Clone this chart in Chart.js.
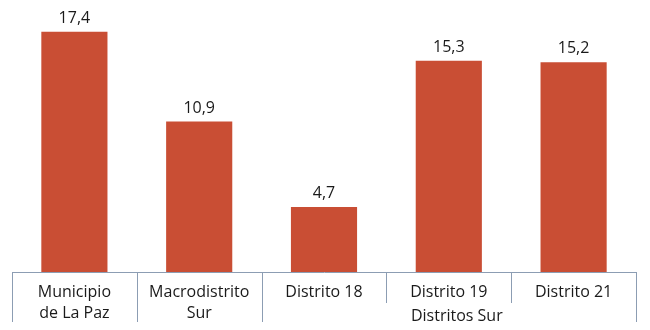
<!DOCTYPE html>
<html>
<head>
<meta charset="utf-8">
<script src="https://cdn.jsdelivr.net/npm/chart.js@4.4.1/dist/chart.umd.min.js"></script>
<style>
  html, body { margin: 0; padding: 0; background: #fff; }
  #wrap { width: 650px; height: 330px; }
</style>
</head>
<body>
<div id="wrap"><canvas id="chart" width="650" height="330"></canvas></div>
<script>
// datos
const categories = [["Municipio", "de La Paz"], ["Macrodistrito", "Sur"], "Distrito 18", "Distrito 19", "Distrito 21"];
const values = [17.4, 10.9, 4.7, 15.3, 15.2];
const groupLabel = "Distritos Sur";
const groupStart = 2; // Distrito 18 .. Distrito 21
const groupEnd = 4;

const FONT = "'Open Sans', sans-serif";
const LINE = "#8C9DB3";

// etiquetas de valor sobre las barras (coma decimal)
const valueLabels = {
  id: "valueLabels",
  afterDatasetsDraw(chart) {
    const ctx = chart.ctx;
    const meta = chart.getDatasetMeta(0);
    ctx.save();
    ctx.font = "16px " + FONT;
    ctx.fillStyle = "#1a1a1a";
    ctx.textAlign = "center";
    ctx.textBaseline = "alphabetic";
    meta.data.forEach((bar, i) => {
      ctx.fillText(values[i].toFixed(1).replace(".", ","), bar.x, bar.y - 9);
    });
    ctx.restore();
  }
};

// lineas separadoras tipo tabla y etiqueta del grupo
const tableLines = {
  id: "tableLines",
  afterDraw(chart) {
    const ctx = chart.ctx;
    const x = chart.scales.x;
    const area = chart.chartArea;
    const n = categories.length;
    const edges = [area.left];
    for (let i = 0; i < n - 1; i++) {
      edges.push((x.getPixelForTick(i) + x.getPixelForTick(i + 1)) / 2);
    }
    edges.push(area.right);
    ctx.save();
    ctx.strokeStyle = LINE;
    ctx.lineWidth = 1;
    edges.forEach((ex, i) => {
      const inside = i > groupStart && i <= groupEnd;
      const yEnd = inside ? area.bottom + 31 : area.bottom + 50;
      const px = Math.round(ex) + 0.5;
      ctx.beginPath();
      ctx.moveTo(px, area.bottom);
      ctx.lineTo(px, yEnd);
      ctx.stroke();
    });
    ctx.font = "16px " + FONT;
    ctx.fillStyle = "#1a1a1a";
    ctx.textAlign = "center";
    ctx.textBaseline = "middle";
    const gx = (edges[groupStart] + edges[groupEnd + 1]) / 2 + 8;
    ctx.fillText(groupLabel, gx, area.bottom + 44);
    ctx.restore();
  }
};

new Chart(document.getElementById("chart").getContext("2d"), {
  type: "bar",
  data: {
    labels: categories,
    datasets: [{
      data: values,
      backgroundColor: "#C94E34",
      categoryPercentage: 1,
      barPercentage: 0.53
    }]
  },
  options: {
    responsive: false,
    animation: false,
    layout: { padding: { left: 12, right: 14, top: 0, bottom: 0 } },
    plugins: { legend: { display: false }, tooltip: { enabled: false } },
    scales: {
      x: {
        grid: { display: false, drawTicks: false },
        border: { display: true, color: LINE, width: 1 },
        afterFit(scale) { scale.height = 58; },
        ticks: {
          color: "#1a1a1a",
          font: { family: FONT, size: 16, lineHeight: 1.3 },
          padding: 10,
          maxRotation: 0,
          autoSkip: false
        }
      },
      y: {
        display: false,
        min: 0,
        max: 19.7
      }
    }
  },
  plugins: [valueLabels, tableLines]
});
</script>
</body>
</html>
